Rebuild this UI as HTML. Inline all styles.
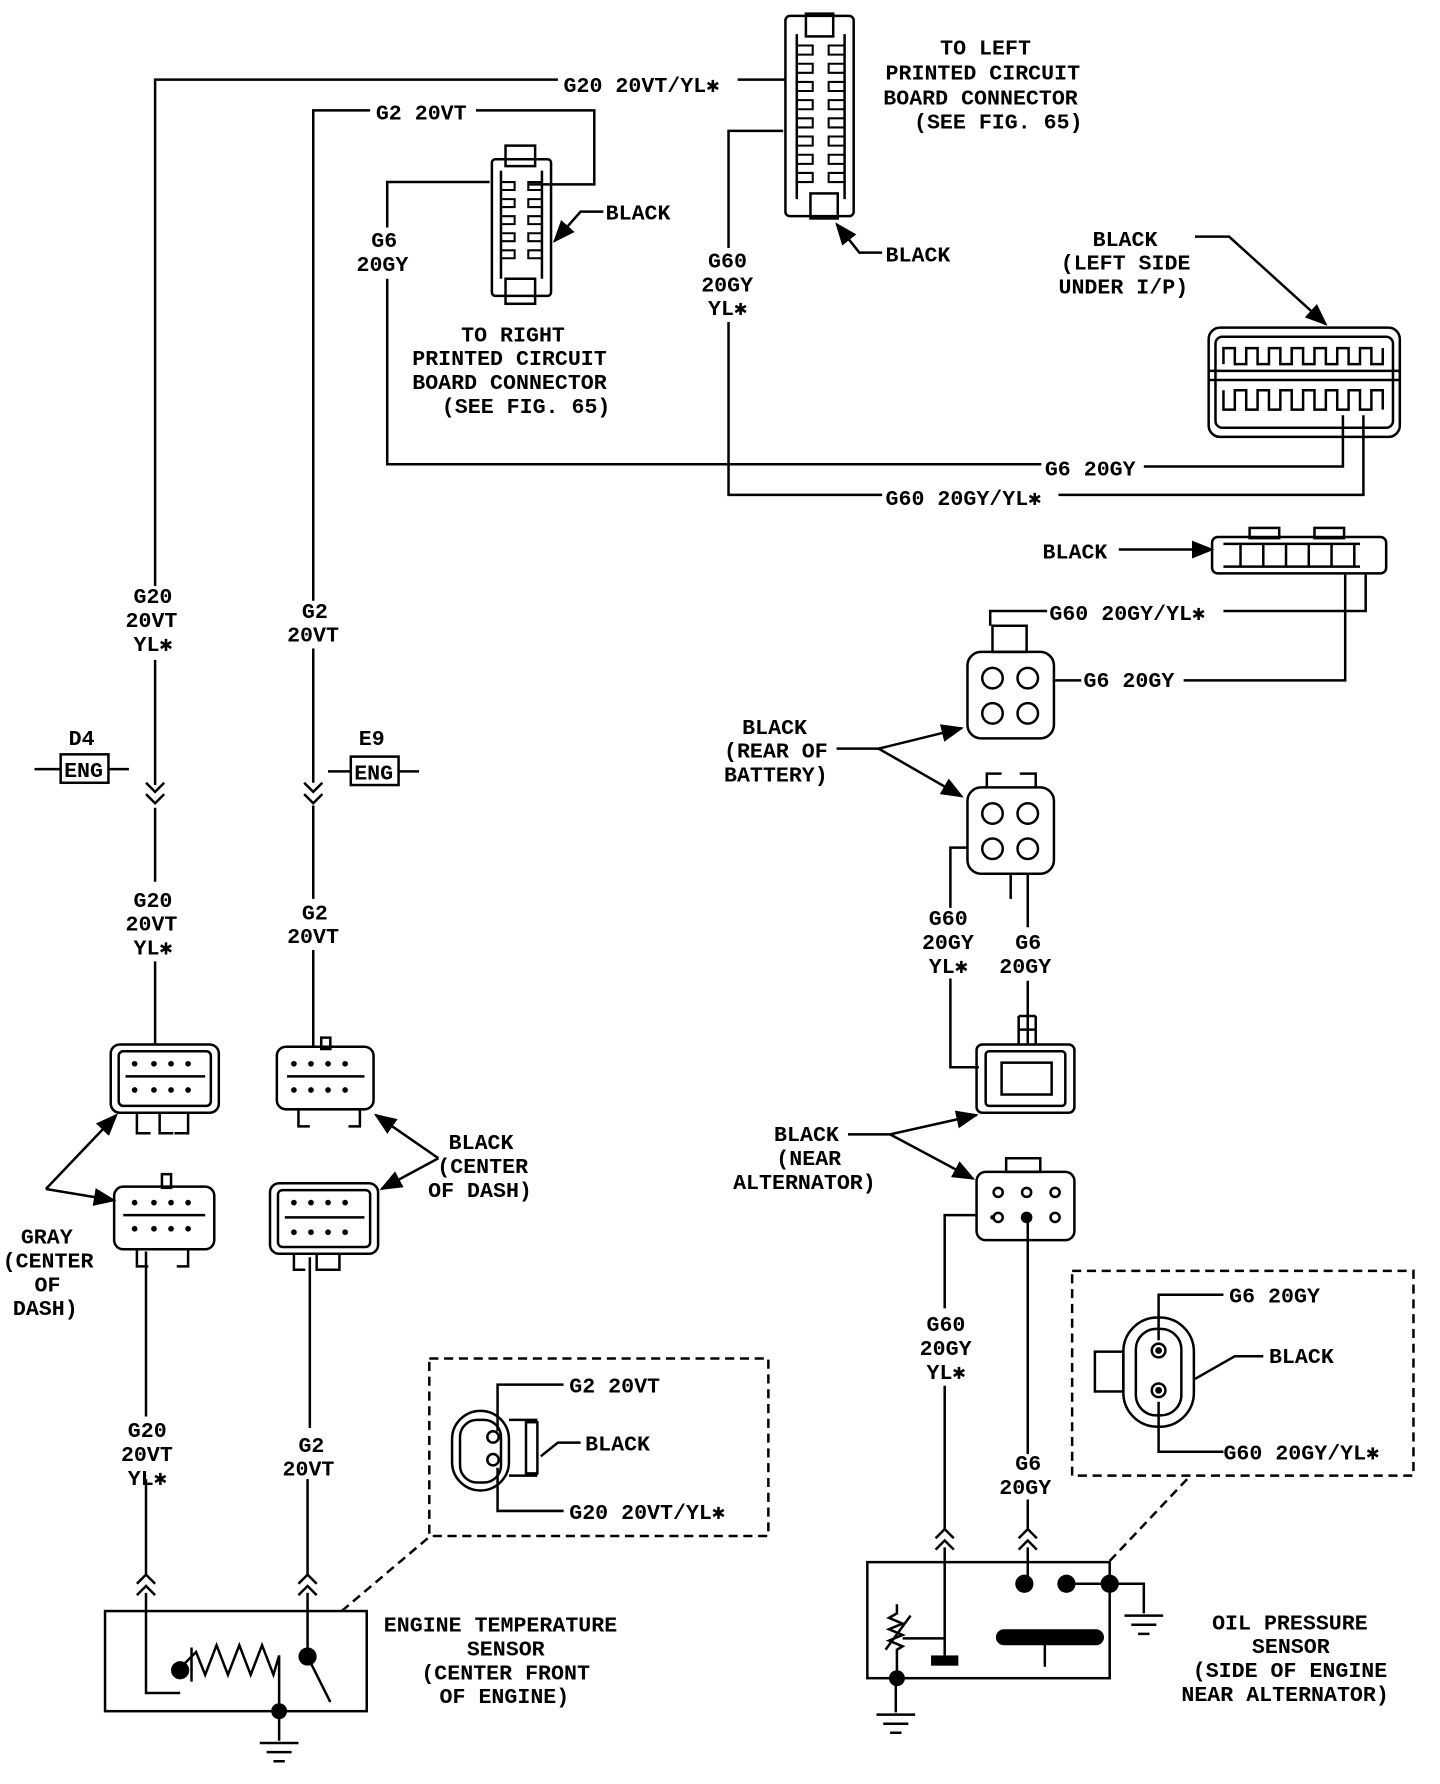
<!DOCTYPE html>
<html><head><meta charset="utf-8"><style>
html,body{margin:0;padding:0;background:#fff;}
svg{display:block}
text{font-family:"Liberation Mono","DejaVu Sans Mono",monospace;font-weight:bold;font-size:19px;fill:#000;stroke:none;}
</style></head><body>
<svg width="1440" height="1784" viewBox="0 0 1265 1568" xmlns="http://www.w3.org/2000/svg">
<defs><marker id="ar" viewBox="0 0 10 10" refX="9" refY="5" markerWidth="9" markerHeight="9" orient="auto"><path d="M0,1 L10,5 L0,9 z" fill="#000"/></marker></defs>
<g fill="none" stroke="#000" stroke-width="2.2">
<path d="M490,70 H136 V515 M136,580 V690 M136,710 V775 M136,845 V918"/>
<path d="M648,70 H690"/>
<path d="M128,688 l8,8 l8,-8 M128,698 l8,8 l8,-8"/>
<path d="M325,97 H275 V528 M275,570 V688 M275,708 V790 M275,835 V920"/>
<path d="M418,97 H522 V162 H465"/>
<path d="M267,688 l8,8 l8,-8 M267,698 l8,8 l8,-8"/>
<path d="M430,160 H340 V200 M340,245 V408 H915 M1005,410 H1180 V365"/>
<path d="M688,115 H640 V218 M640,283 V435 H775 M930,435 H1198 V365"/>
<rect x="53" y="663" width="42" height="25"/>
<path d="M30,676 H53 M95,676 H113"/>
<rect x="308" y="665" width="42" height="25"/>
<path d="M288,678 H308 M350,678 H368"/>
<!-- left PCB connector -->
<rect x="690" y="14" width="60" height="176" rx="4"/>
<rect x="708" y="12" width="24" height="20"/><rect x="712" y="170" width="24" height="22"/>
<path d="M700,30 V175 M742,30 V175"/>
<g stroke-width="1.8">
<path d="M700,40 h14 v8 h-14 M700,56 h14 v8 h-14 M700,72 h14 v8 h-14 M700,88 h14 v8 h-14 M700,104 h14 v8 h-14 M700,120 h14 v8 h-14 M700,136 h14 v8 h-14 M700,152 h14 v8 h-14"/>
<path d="M742,40 h-14 v8 h14 M742,56 h-14 v8 h14 M742,72 h-14 v8 h14 M742,88 h-14 v8 h14 M742,104 h-14 v8 h14 M742,120 h-14 v8 h14 M742,136 h-14 v8 h14 M742,152 h-14 v8 h14"/>
</g>
<!-- right PCB connector -->
<rect x="432" y="140" width="52" height="120" rx="3"/>
<rect x="444" y="128" width="26" height="18"/><rect x="444" y="245" width="26" height="22"/>
<path d="M440,150 V245 M476,150 V245"/>
<g stroke-width="1.8">
<path d="M440,160 h12 v7 h-12 M440,175 h12 v7 h-12 M440,190 h12 v7 h-12 M440,205 h12 v7 h-12 M440,220 h12 v7 h-12"/>
<path d="M476,160 h-12 v7 h12 M476,175 h-12 v7 h12 M476,190 h-12 v7 h12 M476,205 h-12 v7 h12 M476,220 h-12 v7 h12"/>
</g>
<path d="M530,186 H510 L487,212" marker-end="url(#ar)"/>
<path d="M775,222 H755 L735,197" marker-end="url(#ar)"/>
<!-- big connector -->
<rect x="1062" y="288" width="168" height="96" rx="10"/>
<rect x="1068" y="296" width="156" height="80" rx="6"/>
<path d="M1062,326 H1230 M1062,334 H1230"/>
<path d="M1075,320 V306 H1085 V320 H1095 V306 H1105 V320 H1115 V306 H1125 V320 H1135 V306 H1145 V320 H1155 V306 H1165 V320 H1175 V306 H1185 V320 H1195 V306 H1205 V320 H1215 V306"/>
<path d="M1075,343 V360 H1085 V343 H1095 V360 H1105 V343 H1115 V360 H1125 V343 H1135 V360 H1145 V343 H1155 V360 H1165 V343 H1175 V360 H1185 V343 H1195 V360 H1205 V343 H1215 V360"/>
<path d="M1050,208 H1080 L1165,285" marker-end="url(#ar)"/>
<!-- small connector -->
<rect x="1065" y="472" width="153" height="32" rx="5"/>
<rect x="1098" y="464" width="26" height="9"/><rect x="1155" y="464" width="26" height="9"/>
<path d="M1075,478 h120 M1075,498 h120 M1090,478 v20 M1110,478 v20 M1130,478 v20 M1150,478 v20 M1170,478 v20 M1190,478 v20"/>
<path d="M983,483 H1065" marker-end="url(#ar)"/>
<path d="M1200,505 V537 H1075 M920,537 H870 V550 M1182,505 V598 H1040 M950,598 H925"/>
<rect x="850" y="573" width="76" height="76" rx="12"/><rect x="872" y="550" width="30" height="23"/>
<circle cx="872" cy="596" r="9"/><circle cx="903" cy="596" r="9"/><circle cx="872" cy="627" r="9"/><circle cx="903" cy="627" r="9"/>
<rect x="850" y="692" width="76" height="76" rx="12"/><path d="M867,692 V680 H880 M896,680 H910 V692"/>
<circle cx="872" cy="715" r="9"/><circle cx="903" cy="715" r="9"/><circle cx="872" cy="746" r="9"/><circle cx="903" cy="746" r="9"/>
<path d="M888,768 V790 M850,745 H835 V798 M835,860 V938 H860 M903,768 V815 M903,862 V918"/>
<path d="M735,658 H772 L845,640" marker-end="url(#ar)"/><path d="M772,658 L845,700" marker-end="url(#ar)"/>
<rect x="858" y="918" width="86" height="60" rx="5"/><rect x="866" y="924" width="70" height="48" rx="3"/>
<rect x="880" y="934" width="44" height="28"/><path d="M895,893 v25 M910,893 v25 M895,893 h15 M895,905 h15"/>
<rect x="858" y="1030" width="86" height="60" rx="8"/><rect x="884" y="1018" width="30" height="12"/>
<circle cx="877" cy="1048" r="4"/><circle cx="902" cy="1048" r="4"/><circle cx="927" cy="1048" r="4"/>
<circle cx="877" cy="1070" r="4"/><circle cx="902" cy="1070" r="4"/><circle cx="927" cy="1070" r="4"/>
<path d="M745,997 H782 L858,980" marker-end="url(#ar)"/><path d="M782,997 L855,1036" marker-end="url(#ar)"/>
<path d="M858,1068 H830 V1150 M830,1218 V1345 M830,1360 V1440 M903,1070 V1278 M903,1318 V1345 M903,1360 V1390"/>
<path d="M822,1352 l8,-8 l8,8 M822,1362 l8,-8 l8,8 M895,1352 l8,-8 l8,8 M895,1362 l8,-8 l8,8"/>
<rect x="762" y="1373" width="213" height="102"/>
<path d="M788,1410 V1418 l-7,4 l12,5 l-12,5 l12,5 l-12,5 l12,5 l-5,3 V1475 M778,1450 L800,1420" />
<path d="M793,1440 H830 V1458 M787,1475 V1505 M770,1507 h34 M776,1515 h22 M782,1523 h10"/>
<path d="M975,1392 H1005 V1418 M988,1420 h34 M994,1428 h22 M1000,1436 h10"/>
<path d="M937,1392 H975 M918,1445 V1465"/>
<rect x="942" y="1117" width="300" height="180" stroke-dasharray="8,5"/>
<path d="M975,1372 L1045,1298" stroke-dasharray="8,5"/>
<rect x="377" y="1194" width="298" height="156" stroke-dasharray="8,5"/>
<path d="M300,1416 L378,1350" stroke-dasharray="8,5"/>
<rect x="987" y="1158" width="62" height="96" rx="30"/><rect x="998" y="1168" width="40" height="76" rx="18"/>
<circle cx="1018" cy="1187" r="6"/><circle cx="1018" cy="1222" r="6"/><rect x="962" y="1188" width="25" height="35"/>
<path d="M1075,1138 H1018 V1178 M1018,1232 V1276 H1075 M1110,1192 H1085 L1050,1212" />
<rect x="397" y="1240" width="50" height="70" rx="25"/><rect x="404" y="1248" width="36" height="55" rx="15"/>
<circle cx="433" cy="1263" r="5"/><circle cx="433" cy="1283" r="5"/><rect x="462" y="1250" width="10" height="45"/><path d="M447,1248 h25 M447,1297 h25"/>
<path d="M495,1217 H437 V1258 M437,1290 V1328 H495 M510,1268 H490 L475,1280"/>
<rect x="92" y="1416" width="230" height="88"/>
<path d="M128,1300 V1385 M128,1400 V1488 H158 M270,1300 V1385 M270,1400 V1456 L290,1496"/>
<path d="M120,1392 l8,-8 l8,8 M120,1402 l8,-8 l8,8 M262,1392 l8,-8 l8,8 M262,1402 l8,-8 l8,8"/>
<path d="M158,1466 L172,1452 L180,1472 L190,1446 L200,1472 L210,1446 L220,1472 L230,1446 L240,1472 L245,1455 V1530 M168,1478 V1448"/>
<path d="M228,1532 h34 M234,1540 h22 M240,1548 h10"/>
<rect x="97" y="918" width="95" height="60" rx="8"/><rect x="104" y="924" width="81" height="48" rx="4"/><path d="M110,946 H180 M120,978 v18 h12 M140,978 v18 h12 M165,978 v18 h-12"/>
<rect x="243" y="920" width="85" height="55" rx="8"/><rect x="282" y="912" width="8" height="10"/><path d="M252,946 H320 M262,975 v15 h10 M316,975 v15 h-10"/>
<rect x="100" y="1043" width="88" height="55" rx="8"/><rect x="142" y="1032" width="8" height="12"/><path d="M108,1068 H180 M120,1098 v15 h10 M165,1098 v15 h-10"/>
<rect x="237" y="1040" width="95" height="62" rx="8"/><rect x="244" y="1046" width="81" height="50" rx="4"/><path d="M250,1070 H320 M258,1102 v14 h10 M278,1102 v14 h10 M298,1102 v14 h-10"/>
<path d="M128,1100 V1245 M272,1105 V1255"/>
<path d="M40,1045 L102,980" marker-end="url(#ar)"/><path d="M40,1045 L100,1055" marker-end="url(#ar)"/>
<path d="M385,1018 L330,980" marker-end="url(#ar)"/><path d="M385,1018 L335,1045" marker-end="url(#ar)"/>
</g>
<g fill="#000">
<circle cx="872" cy="1070" r="2"/><circle cx="902" cy="1070" r="3"/>
<circle cx="900" cy="1392" r="8"/><circle cx="937" cy="1392" r="8"/><circle cx="975" cy="1392" r="8"/><circle cx="788" cy="1475" r="7"/>
<rect x="875" y="1432" width="95" height="14" rx="7"/><rect x="818" y="1455" width="24" height="9"/>
<circle cx="158" cy="1468" r="8"/><circle cx="270" cy="1456" r="8"/><circle cx="245" cy="1504" r="7"/>
<circle cx="1018" cy="1187" r="3"/><circle cx="1018" cy="1222" r="3"/>
<!-- pin dots in left connectors -->
<circle cx="118" cy="935" r="2.5"/><circle cx="135" cy="935" r="2.5"/><circle cx="150" cy="935" r="2.5"/><circle cx="165" cy="935" r="2.5"/><circle cx="118" cy="958" r="2.5"/><circle cx="135" cy="958" r="2.5"/><circle cx="150" cy="958" r="2.5"/><circle cx="165" cy="958" r="2.5"/>
<circle cx="258" cy="935" r="2.5"/><circle cx="273" cy="935" r="2.5"/><circle cx="288" cy="935" r="2.5"/><circle cx="303" cy="935" r="2.5"/><circle cx="258" cy="958" r="2.5"/><circle cx="273" cy="958" r="2.5"/><circle cx="288" cy="958" r="2.5"/><circle cx="303" cy="958" r="2.5"/>
<circle cx="118" cy="1057" r="2.5"/><circle cx="135" cy="1057" r="2.5"/><circle cx="150" cy="1057" r="2.5"/><circle cx="165" cy="1057" r="2.5"/><circle cx="118" cy="1080" r="2.5"/><circle cx="135" cy="1080" r="2.5"/><circle cx="150" cy="1080" r="2.5"/><circle cx="165" cy="1080" r="2.5"/>
<circle cx="258" cy="1057" r="2.5"/><circle cx="273" cy="1057" r="2.5"/><circle cx="288" cy="1057" r="2.5"/><circle cx="303" cy="1057" r="2.5"/><circle cx="258" cy="1083" r="2.5"/><circle cx="273" cy="1083" r="2.5"/><circle cx="288" cy="1083" r="2.5"/><circle cx="303" cy="1083" r="2.5"/>
</g>
<text x="60" y="655">D4</text><text x="56" y="683">ENG</text>
<text x="315" y="655">E9</text><text x="311" y="685">ENG</text>
<text x="495" y="81">G20 20VT/YL✱</text>
<text x="330" y="105">G2 20VT</text>
<text x="826" y="48">TO LEFT</text><text x="778" y="70">PRINTED CIRCUIT</text><text x="776" y="92">BOARD CONNECTOR</text><text x="803" y="113">(SEE FIG. 65)</text>
<text x="532" y="193">BLACK</text><text x="778" y="230">BLACK</text>
<text x="326" y="217">G6</text><text x="313" y="238">20GY</text>
<text x="622" y="235">G60</text><text x="616" y="256">20GY</text><text x="622" y="277">YL✱</text>
<text x="405" y="300">TO RIGHT</text><text x="362" y="321">PRINTED CIRCUIT</text><text x="362" y="342">BOARD CONNECTOR</text><text x="388" y="363">(SEE FIG. 65)</text>
<text x="960" y="216">BLACK</text><text x="932" y="237">(LEFT SIDE</text><text x="930" y="258">UNDER I/P)</text>
<text x="918" y="418">G6 20GY</text><text x="778" y="444">G60 20GY/YL✱</text>
<text x="916" y="491">BLACK</text>
<text x="922" y="545">G60 20GY/YL✱</text><text x="952" y="604">G6 20GY</text>
<text x="652" y="645">BLACK</text><text x="636" y="666">(REAR OF</text><text x="636" y="687">BATTERY)</text>
<text x="117" y="530">G20</text><text x="110" y="551">20VT</text><text x="117" y="572">YL✱</text>
<text x="265" y="543">G2</text><text x="252" y="564">20VT</text>
<text x="117" y="797">G20</text><text x="110" y="818">20VT</text><text x="117" y="839">YL✱</text>
<text x="265" y="808">G2</text><text x="252" y="829">20VT</text>
<text x="816" y="813">G60</text><text x="810" y="834">20GY</text><text x="816" y="855">YL✱</text>
<text x="892" y="834">G6</text><text x="878" y="855">20GY</text>
<text x="680" y="1003">BLACK</text><text x="682" y="1024">(NEAR</text><text x="644" y="1045">ALTERNATOR)</text>
<text x="394" y="1010">BLACK</text><text x="384" y="1031">(CENTER</text><text x="376" y="1052">OF DASH)</text>
<text x="18" y="1093">GRAY</text><text x="2" y="1114">(CENTER</text><text x="30" y="1135">OF</text><text x="11" y="1156">DASH)</text>
<text x="814" y="1170">G60</text><text x="808" y="1191">20GY</text><text x="814" y="1212">YL✱</text>
<text x="892" y="1292">G6</text><text x="878" y="1313">20GY</text>
<text x="1080" y="1145">G6 20GY</text><text x="1115" y="1198">BLACK</text><text x="1075" y="1283">G60 20GY/YL✱</text>
<text x="500" y="1224">G2 20VT</text><text x="514" y="1275">BLACK</text><text x="500" y="1335">G20 20VT/YL✱</text>
<text x="112" y="1263">G20</text><text x="106" y="1284">20VT</text><text x="112" y="1305">YL✱</text>
<text x="262" y="1276">G2</text><text x="248" y="1297">20VT</text>
<text x="337" y="1434">ENGINE TEMPERATURE</text><text x="410" y="1455">SENSOR</text><text x="370" y="1476">(CENTER FRONT</text><text x="386" y="1497">OF ENGINE)</text>
<text x="1065" y="1432">OIL PRESSURE</text><text x="1100" y="1453">SENSOR</text><text x="1048" y="1474">(SIDE OF ENGINE</text><text x="1038" y="1495">NEAR ALTERNATOR)</text>
</svg>
</body></html>
